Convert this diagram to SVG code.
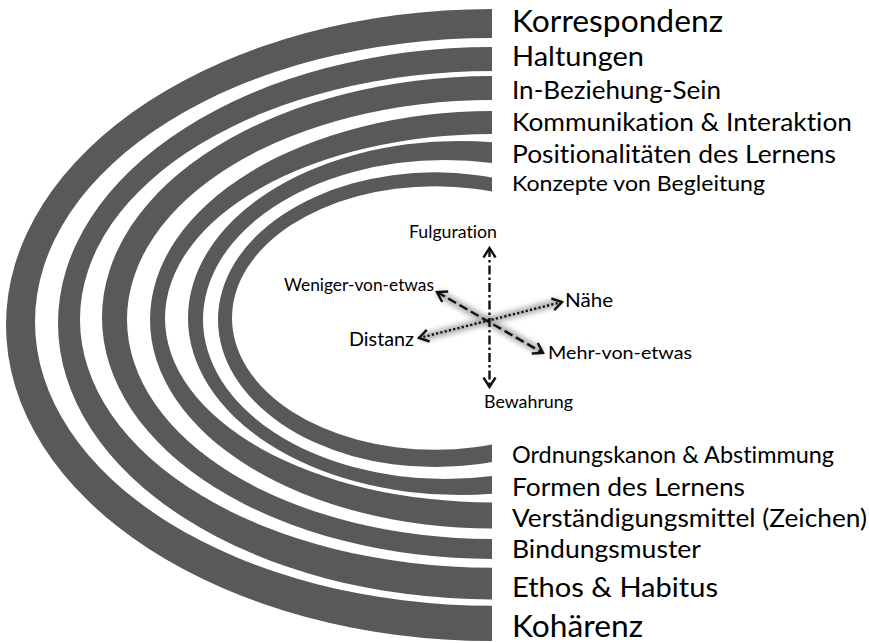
<svg xmlns="http://www.w3.org/2000/svg" width="869" height="643" viewBox="0 0 869 643">
  <style>
    .band { fill: #595959; fill-rule: evenodd; }
    .lbl { font-family: Lato, "Liberation Sans", sans-serif; fill: #000; font-variant-ligatures: none; font-feature-settings: "liga" 0, "clig" 0; }
    .ax { fill: none; stroke: #111; stroke-width: 2.4; }
    .halo { fill: none; stroke: #9a9a9a; stroke-width: 8; opacity: 0.75; filter: url(#soft); }
    .dashdot { stroke-dasharray: 9 3 2.5 3; }
    .dash { stroke-dasharray: 9 4; }
    .dot { stroke-dasharray: 2.2 2.2; }
  </style>
  <defs>
    <clipPath id="cut">
      <rect x="0" y="0" width="492" height="643"/>
    </clipPath>
    <filter id="soft" x="-20%" y="-20%" width="140%" height="140%">
      <feGaussianBlur stdDeviation="2.4"/>
    </filter>
    <marker id="chev" viewBox="-12 -8 16 16" markerWidth="16" markerHeight="16" refX="0" refY="0"
            orient="auto-start-reverse" markerUnits="userSpaceOnUse">
      <path d="M-9.5,-6 L0,0 L-9.5,6" fill="none" stroke="#111" stroke-width="2.4" stroke-linejoin="miter"/>
    </marker>
  </defs>

  <!-- nested half-rings: outer ellipse minus inner ellipse, cut off at x = 492 -->
  <g clip-path="url(#cut)">
    <g id="ring1">
      <path class="band" d="M6,325 a486,316 0 1,0 972,0 a486,316 0 1,0 -972,0 Z M35,321.9 a457,283.9 0 1,0 914,0 a457,283.9 0 1,0 -914,0 Z"/>
    </g>
    <g id="ring2">
      <path class="band" d="M58,323.2 a434,276.2 0 1,0 868,0 a434,276.2 0 1,0 -868,0 Z M80,319.4 a412,248.4 0 1,0 824,0 a412,248.4 0 1,0 -824,0 Z"/>
    </g>
    <g id="ring3">
      <path class="band" d="M102,317.5 a390,241.5 0 1,0 780,0 a390,241.5 0 1,0 -780,0 Z M127,319.5 a365,219.5 0 1,0 730,0 a365,219.5 0 1,0 -730,0 Z"/>
    </g>
    <g id="ring4">
      <path class="band" d="M150,319.7 a342,208.7 0 1,0 684,0 a342,208.7 0 1,0 -684,0 Z M165,318.2 a327,184.2 0 1,0 654,0 a327,184.2 0 1,0 -654,0 Z"/>
    </g>
    <g id="ring5">
      <path class="band" d="M188,318 a272,177.1 0 1,0 544,0 a272,177.1 0 1,0 -544,0 Z M203,319.5 a242,159.5 0 1,0 484,0 a242,159.5 0 1,0 -484,0 Z"/>
    </g>
    <g id="ring6">
      <path class="band" d="M218,319.7 a217,147.4 0 1,0 434,0 a217,147.4 0 1,0 -434,0 Z M232,318 a203,131.7 0 1,0 406,0 a203,131.7 0 1,0 -406,0 Z"/>
    </g>
  </g>

  <!-- labels at the upper ends of the rings -->
  <g id="label-korrespondenz"><text class="lbl" x="512" y="32" font-size="30.6" textLength="211" lengthAdjust="spacingAndGlyphs">Korrespondenz</text></g>
  <g id="label-haltungen"><text class="lbl" x="512" y="66" font-size="27.9" textLength="132" lengthAdjust="spacingAndGlyphs">Haltungen</text></g>
  <g id="label-in-beziehung"><text class="lbl" x="512" y="99" font-size="25.2" textLength="209" lengthAdjust="spacingAndGlyphs">In-Beziehung-Sein</text></g>
  <g id="label-kommunikation"><text class="lbl" x="512" y="131" font-size="25.2" textLength="340" lengthAdjust="spacingAndGlyphs">Kommunikation &amp; Interaktion</text></g>
  <g id="label-positionalitaeten"><text class="lbl" x="512" y="163" font-size="25.2" textLength="324" lengthAdjust="spacingAndGlyphs">Positionalitäten des Lernens</text></g>
  <g id="label-konzepte"><text class="lbl" x="512" y="191" font-size="21.6" textLength="253" lengthAdjust="spacingAndGlyphs">Konzepte von Begleitung</text></g>

  <!-- labels at the lower ends of the rings -->
  <g id="label-ordnungskanon"><text class="lbl" x="512" y="463" font-size="22.5" textLength="322" lengthAdjust="spacingAndGlyphs">Ordnungskanon &amp; Abstimmung</text></g>
  <g id="label-formen"><text class="lbl" x="512" y="496" font-size="25.2" textLength="233" lengthAdjust="spacingAndGlyphs">Formen des Lernens</text></g>
  <g id="label-verstaendigung"><text class="lbl" x="512" y="527" font-size="25.2" textLength="355" lengthAdjust="spacingAndGlyphs">Verständigungsmittel (Zeichen)</text></g>
  <g id="label-bindungsmuster"><text class="lbl" x="512" y="558" font-size="25.2" textLength="189" lengthAdjust="spacingAndGlyphs">Bindungsmuster</text></g>
  <g id="label-ethos"><text class="lbl" x="512" y="597" font-size="27.9" textLength="206" lengthAdjust="spacingAndGlyphs">Ethos &amp; Habitus</text></g>
  <g id="label-kohaerenz"><text class="lbl" x="512" y="637" font-size="30.6" textLength="131" lengthAdjust="spacingAndGlyphs">Kohärenz</text></g>

  <!-- three crossing double-headed axes in the centre -->
  <g id="axes">
    <line class="halo" x1="489.5" y1="250" x2="489.5" y2="385"/>
    <line class="halo" x1="438" y1="293" x2="542" y2="352"/>
    <line class="halo" x1="421" y1="338" x2="560" y2="302"/>
    <line class="ax dashdot" x1="489.5" y1="248" x2="489.5" y2="387" marker-start="url(#chev)" marker-end="url(#chev)"/>
    <line class="ax dash" x1="437" y1="292" x2="543" y2="353" marker-start="url(#chev)" marker-end="url(#chev)"/>
    <line class="ax dot" x1="419" y1="338" x2="562" y2="302" marker-start="url(#chev)" marker-end="url(#chev)"/>
  </g>

  <!-- axis end labels -->
  <g id="label-fulguration"><text class="lbl" x="409" y="238" font-size="16.6" textLength="88" lengthAdjust="spacingAndGlyphs">Fulguration</text></g>
  <g id="label-weniger"><text class="lbl" x="284" y="291" font-size="16.6" textLength="150" lengthAdjust="spacingAndGlyphs">Weniger-von-etwas</text></g>
  <g id="label-distanz"><text class="lbl" x="349" y="346" font-size="18.9" textLength="65" lengthAdjust="spacingAndGlyphs">Distanz</text></g>
  <g id="label-naehe"><text class="lbl" x="565" y="307" font-size="18.9" textLength="48" lengthAdjust="spacingAndGlyphs">Nähe</text></g>
  <g id="label-mehr"><text class="lbl" x="548" y="359" font-size="16.6" textLength="144" lengthAdjust="spacingAndGlyphs">Mehr-von-etwas</text></g>
  <g id="label-bewahrung"><text class="lbl" x="484" y="408" font-size="16.6" textLength="89" lengthAdjust="spacingAndGlyphs">Bewahrung</text></g>
</svg>
